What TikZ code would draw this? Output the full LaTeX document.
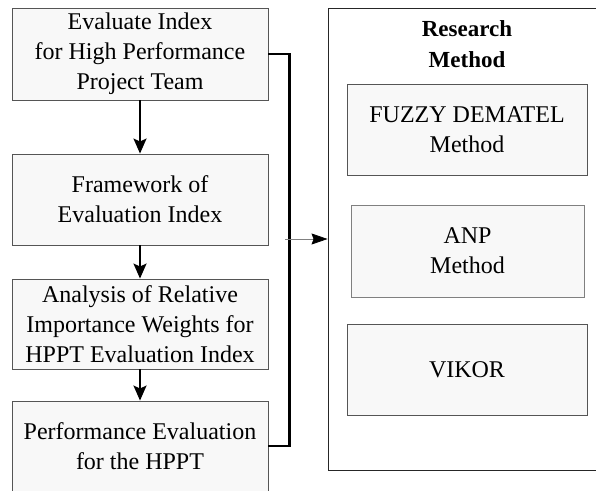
\documentclass[tikz,border=0pt]{standalone}
\usepackage{fontspec}
\setmainfont{Liberation Serif}
\usetikzlibrary{arrows.meta}
\definecolor{boxfill}{HTML}{F8F8F8}
\definecolor{boxline}{HTML}{555555}
\begin{document}
\begin{tikzpicture}[x=1pt,y=-1pt,
  stepbox/.style={draw=boxline,line width=0.9pt,fill=boxfill,inner sep=0pt,
    align=center,font=\fontsize{24}{30}\selectfont},
  flow/.style={line width=2pt,-{Stealth[length=15pt,width=13pt,inset=3pt]}},
  bracket/.style={line width=2.4pt,line join=miter},
  feed/.style={draw=gray,line width=0.7pt,-{Stealth[length=16pt,width=11pt,inset=2pt,color=black,fill=black]}}]
\useasboundingbox (0,0) rectangle (596,490);
\clip (0,0) rectangle (596,490);

% process steps on the left
\node[stepbox,minimum width=256pt,minimum height=92pt] (s1) at (140,54)
  {Evaluate Index\\for High Performance\\Project Team};
\node[stepbox,minimum width=256pt,minimum height=91pt] (s2) at (140,199.5)
  {Framework of\\Evaluation Index};
\node[stepbox,minimum width=256pt,minimum height=90pt] (s3) at (140,324)
  {Analysis of Relative\\Importance Weights for\\HPPT Evaluation Index};
\node[stepbox,minimum width=256pt,minimum height=90pt] (s4) at (140,446)
  {Performance Evaluation\\for the HPPT};

% research method panel on the right
\node[draw=black!85,line width=0.9pt,fill=white,minimum width=274pt,minimum height=462pt,inner sep=0pt] (rm) at (465,239) {};
\node[align=center,font=\fontsize{23}{31}\selectfont\bfseries] (rmt) at (467,44) {Research\\Method};
\node[stepbox,minimum width=240pt,minimum height=91pt] (m1) at (467,129.5)
  {FUZZY DEMATEL\\Method};
\node[stepbox,draw=gray,minimum width=233pt,minimum height=92pt] (m2) at (467.5,251)
  {ANP\\Method};
\node[stepbox,minimum width=240pt,minimum height=91pt] (m3) at (467,369.5)
  {VIKOR};

% connectors
\draw[flow] (s1) -- (s2);
\draw[flow] (s2) -- (s3);
\draw[flow] (s3) -- (s4);
\draw[bracket] (s1.east) -- ++(21,0) |- (s4.east);
\coordinate (fs) at (285,239);
\draw[feed] (fs) -- (rm.west);
\end{tikzpicture}
\end{document}
